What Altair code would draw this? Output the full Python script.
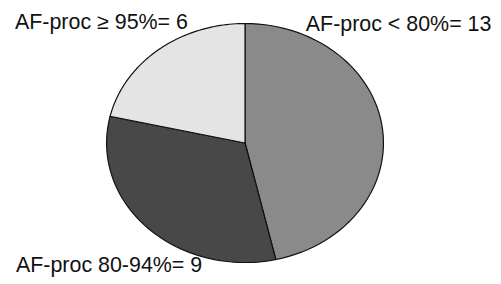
import altair as alt
import pandas as pd

# Slice data (clockwise from 12 o'clock)
labels = ["AF-proc < 80%", "AF-proc 80-94%", "AF-proc \u2265 95%"]
counts = [13, 9, 6]
order = [0, 1, 2]
shades = ["#8a8a8a", "#484848", "#e4e4e4"]

df = pd.DataFrame({"label": labels, "count": counts, "order": order})

N = 60
pie = (
    alt.Chart(df)
    .transform_joinaggregate(total="sum(count)")
    .transform_window(cum="sum(count)", sort=[alt.SortField("order")], frame=[None, 0])
    .transform_calculate(
        a0="2*PI*(datum.cum - datum.count)/datum.total",
        a1="2*PI*datum.cum/datum.total",
        step=f"sequence(-1, {N + 1})",
    )
    .transform_flatten(["step"])
    .transform_calculate(
        ang=f"datum.a0 + (datum.a1 - datum.a0) * datum.step / {N}",
    )
    .transform_calculate(
        px="datum.step < 0 ? 0 : sin(datum.ang)",
        py="datum.step < 0 ? 0 : cos(datum.ang)",
    )
    .mark_line(filled=True, interpolate="linear-closed", stroke="#111111", strokeWidth=1.2)
    .encode(
        x=alt.X("px:Q", scale=alt.Scale(domain=[-1, 1], nice=False, zero=False), axis=None),
        y=alt.Y("py:Q", scale=alt.Scale(domain=[-1, 1], nice=False, zero=False), axis=None),
        color=alt.Color("label:N", scale=alt.Scale(domain=labels, range=shades), legend=None),
        detail="label:N",
        order="step:Q",
    )
)

texts = [f"{l}= {c}" for l, c in zip(labels, counts)]
tdf = pd.DataFrame({"text": texts, "label": labels})

def label_layer(i, x, y):
    return (
        alt.Chart(tdf)
        .transform_filter(alt.datum.label == labels[i])
        .mark_text(align="left", baseline="alphabetic", font="Liberation Sans", fontSize=21.5, color="#111111")
        .encode(text="text:N", x=alt.value(x), y=alt.value(y))
    )

chart = (
    alt.layer(
        pie,
        label_layer(0, 307 - 107, 31 - 23),
        label_layer(1, 16 - 107, 273 - 23),
        label_layer(2, 15 - 107, 29 - 23),
    )
    .properties(
        width=278,
        height=240,
        autosize=alt.AutoSizeParams(type="none"),
        padding={"left": 99, "top": 15, "right": 110, "bottom": 18},
        view=alt.ViewBackground(stroke="transparent", strokeWidth=0),
    )
    .configure_view(stroke="transparent", strokeWidth=0)
    .configure(background="white")
)

chart.save("out.html", embed_options={"renderer": "svg", "actions": False})
